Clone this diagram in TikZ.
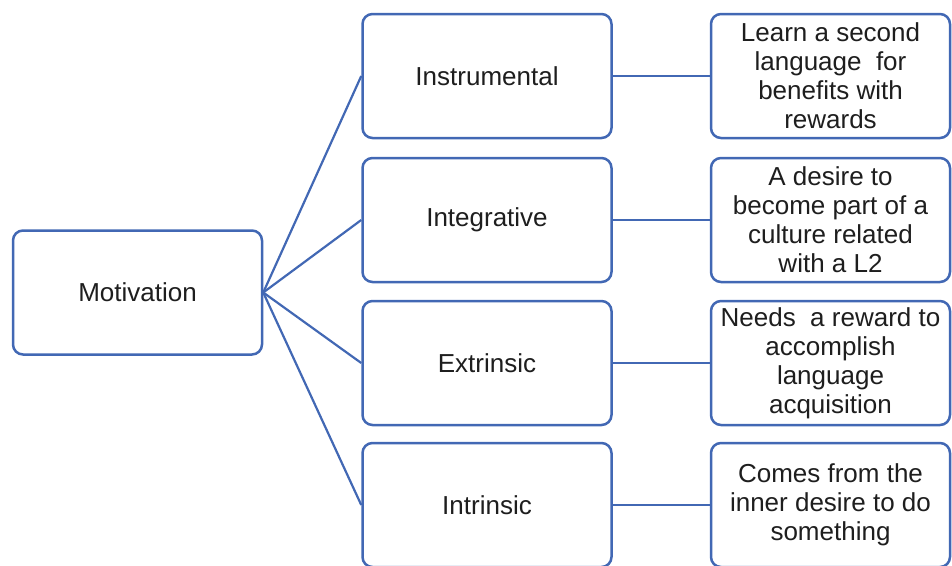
\documentclass[tikz,border=0pt]{standalone}
\usepackage{fontspec}
\setmainfont{Liberation Sans}
\usetikzlibrary{positioning}
\definecolor{boxblue}{RGB}{66,104,180}
\definecolor{txtgray}{RGB}{30,30,30}
\tikzset{
    mbox/.style={draw=boxblue, line width=2.5pt, rounded corners=10pt, fill=white,
        minimum width=249pt, minimum height=124pt, inner sep=2pt,
        text=txtgray, align=center, font=\fontsize{26}{29}\selectfont},
    dbox/.style={mbox, minimum width=239pt},
    link/.style={draw=boxblue, line width=2.2pt},
}

\begin{document}
\begin{tikzpicture}[x=1pt, y=-1pt]
                    \useasboundingbox (0,0) rectangle (952,565);
                    \node[mbox] (mot) at (137.5,292.5) {Motivation};
                    \node[mbox] (instr) at (487,76) {Instrumental};
                    \node[mbox] (integ) at (487,220) {Integrative};
                    \node[mbox] (extr) at (487,363) {Extrinsic};
                    \node[mbox] (intr) at (487,505) {Intrinsic};
                    \node[dbox] (reward) at (830.5,76) {Learn a second\\language\ \ for\\benefits with\\rewards};
                    \node[dbox] (culture) at (830.5,220) {A desire to\\become part of a\\culture related\\with a L2};
                    \node[dbox] (needs) at (830.5,363) {Needs\ \ a reward to\\accomplish\\language\\acquisition};
                    \node[dbox] (inner) at (830.5,505) {Comes from the\\inner desire to do\\something};
                    % fan out from the root
                    \foreach \m in {instr,integ,extr,intr}
                        \draw[link] (mot.east) -- (\m.west);
                    % second level
                    \draw[link] (instr) -- (reward);
                    \draw[link] (integ) -- (culture);
                    \draw[link] (extr) -- (needs);
                    \draw[link] (intr) -- (inner);
\end{tikzpicture}
\end{document}
